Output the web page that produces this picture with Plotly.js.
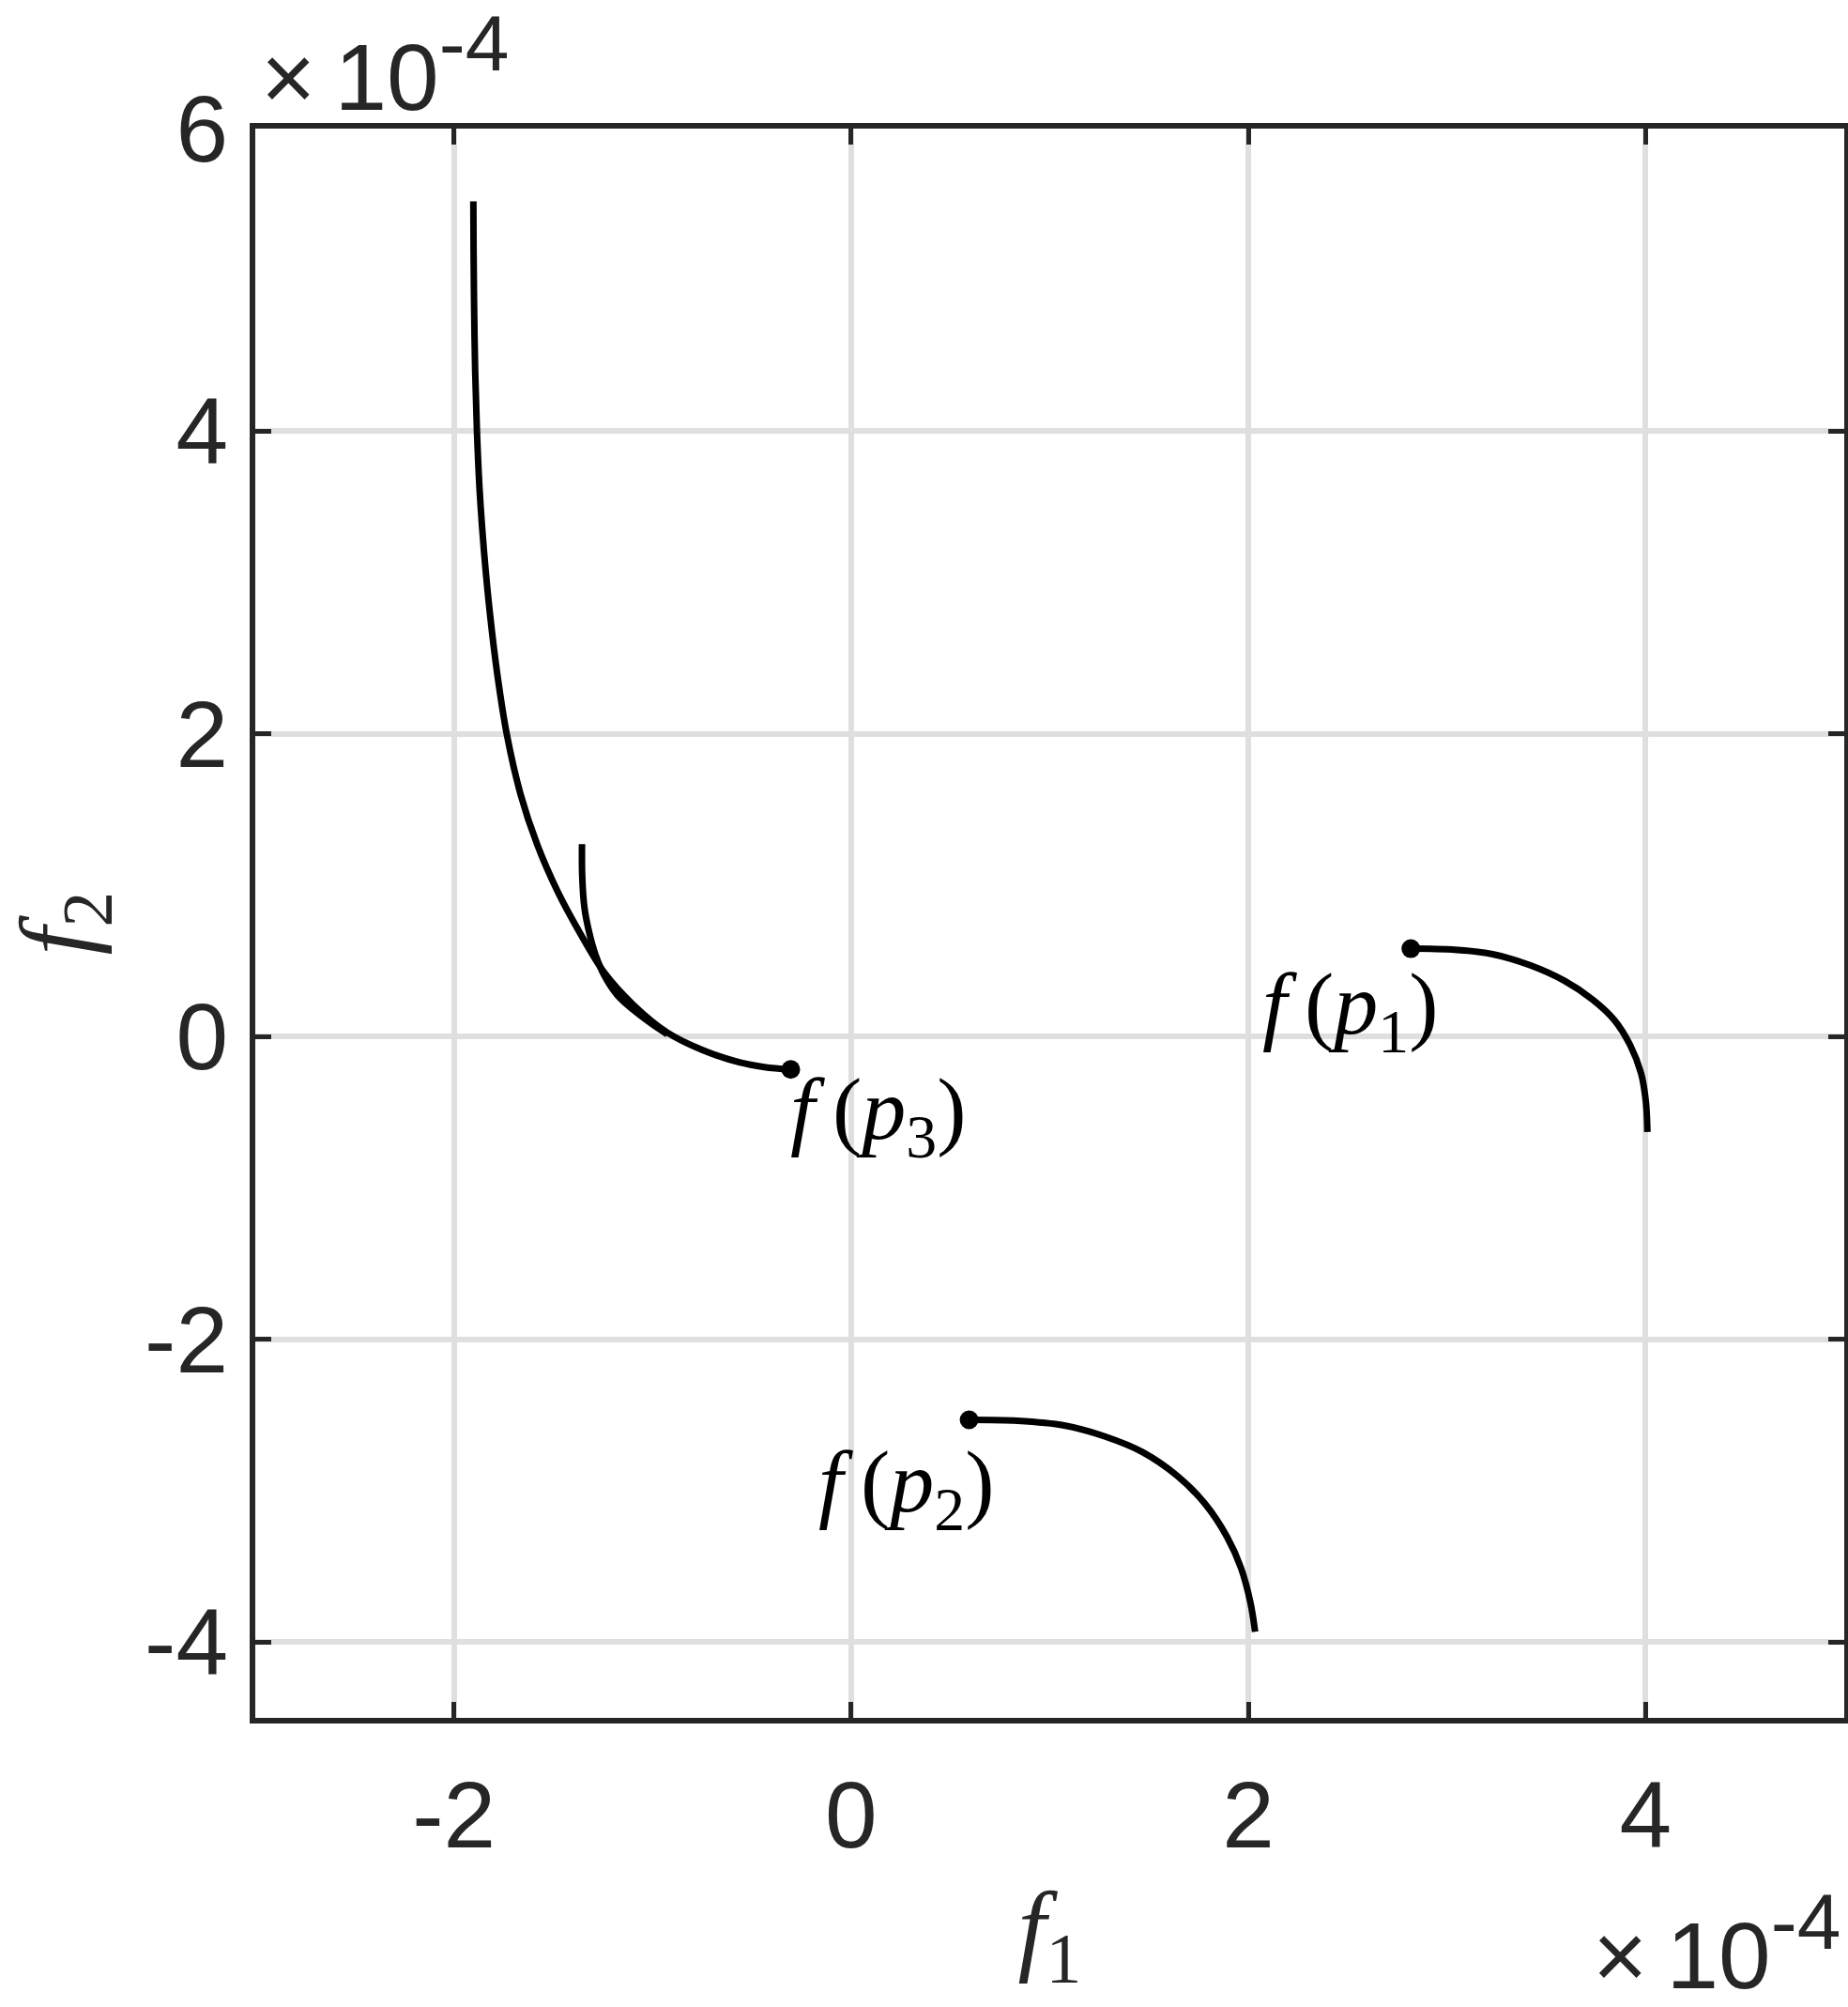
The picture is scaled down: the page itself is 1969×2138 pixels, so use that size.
<!DOCTYPE html>
<html>
<head>
<meta charset="utf-8">
<script src="https://cdn.plot.ly/plotly-3.0.1.min.js"></script>
<style>
  body { margin: 0; background: #fff; }
  #grafica { width: 1969px; height: 2138px; }
</style>
</head>
<body>
<div id="grafica"></div>
<script>
// valores en unidades de 1e-4 (el eje muestra x10^-4)
const curvaAx = [-1.902, -1.901, -1.898, -1.893, -1.884, -1.870, -1.848, -1.819, -1.782, -1.734, -1.664, -1.580, -1.477, -1.367, -1.241, -1.099, -0.926, -0.752, -0.563, -0.437, -0.304];
const curvaAy = [5.52, 5.20, 4.80, 4.40, 4.00, 3.60, 3.20, 2.80, 2.40, 2.00, 1.60, 1.268, 0.958, 0.690, 0.420, 0.214, 0.028, -0.086, -0.169, -0.200, -0.216];

const curvaBx = [-1.355, -1.354, -1.343, -1.319, -1.288, -1.241, -1.178, -1.099, -1.004, -0.926];
const curvaBy = [1.273, 1.062, 0.855, 0.690, 0.545, 0.400, 0.276, 0.180, 0.085, 0.017];

const curvaCx = [2.818, 3.025, 3.230, 3.419, 3.592, 3.734, 3.843, 3.922, 3.977, 4.001, 4.009];
const curvaCy = [0.582, 0.576, 0.545, 0.472, 0.369, 0.245, 0.110, -0.055, -0.241, -0.427, -0.629];

const curvaDx = [0.594, 0.837, 1.073, 1.278, 1.467, 1.640, 1.782, 1.892, 1.963, 2.010, 2.034];
const curvaDy = [-2.531, -2.537, -2.568, -2.641, -2.744, -2.899, -3.086, -3.303, -3.510, -3.737, -3.931];

const etiquetas = [
    "<i>f</i>\u2009(<i>p</i><sub>1</sub>)",
    "<i>f</i>\u2009(<i>p</i><sub>2</sub>)",
    "<i>f</i>\u2009(<i>p</i><sub>3</sub>)"
];

const xTicks = [-2, 0, 2, 4];
const xTickText = ["-2", "0", "2", "4"];
const yTicks = [-4, -2, 0, 2, 4, 6];
const yTickText = ["-4", "-2", "0", "2", "4", "6"];

// puntos f(p1), f(p2), f(p3): extremos de las curvas
const puntosX = [curvaCx[0], curvaDx[0], curvaAx[curvaAx.length - 1]];
const puntosY = [curvaCy[0], curvaDy[0], curvaAy[curvaAy.length - 1]];
const desplaz = [[-65, -65], [-67, -72], [93, -49]];

const negro = '#000000';
const gris = '#262626';

function curva(x, y) {
    return {
        x: x, y: y,
        type: 'scatter',
        mode: 'lines',
        line: { color: negro, width: 7, shape: 'spline', smoothing: 1 },
        hoverinfo: 'skip'
    };
}

const trazas = [
    curva(curvaAx, curvaAy),
    curva(curvaBx, curvaBy),
    curva(curvaCx, curvaCy),
    curva(curvaDx, curvaDy),
    {
        x: puntosX, y: puntosY,
        type: 'scatter',
        mode: 'markers',
        marker: { color: negro, size: 20 }
    }
];

const fuenteNum = { family: 'Liberation Sans, Arial, sans-serif', size: 100, color: gris };
const fuenteMat = { family: 'Liberation Serif, Times New Roman, serif', size: 108, color: gris };

const ejeComun = {
    ticks: 'inside',
    ticklen: 17,
    tickwidth: 5,
    tickcolor: gris,
    showline: true,
    linewidth: 6,
    linecolor: gris,
    mirror: 'ticks',
    showgrid: true,
    gridcolor: '#dfdfdf',
    gridwidth: 6,
    zeroline: false,
    tickfont: fuenteNum
};

const anotaciones = puntosX.map((px, i) => ({
    x: px, y: puntosY[i],
    xref: 'x', yref: 'y',
    text: etiquetas[i],
    showarrow: false,
    xanchor: 'center', yanchor: 'middle',
    xshift: desplaz[i][0], yshift: desplaz[i][1],
    font: { family: 'Liberation Serif, Times New Roman, serif', size: 94, color: negro }
}));

const exponente = '×\u200910<sup><span style="font-size:84px">-4</span></sup>';
anotaciones.push({
    xref: 'paper', yref: 'paper', x: 0, y: 1,
    xanchor: 'left', yanchor: 'bottom',
    xshift: 4, yshift: -3,
    text: exponente, showarrow: false,
    font: fuenteNum
});
anotaciones.push({
    xref: 'paper', yref: 'paper', x: 1, y: 0,
    xanchor: 'right', yanchor: 'top',
    xshift: -2, yshift: -168,
    text: exponente, showarrow: false,
    font: fuenteNum
});

const layout = {
    width: 1969,
    height: 2138,
    margin: { l: 272, r: 4, t: 137, b: 308 },
    paper_bgcolor: '#ffffff',
    plot_bgcolor: '#ffffff',
    showlegend: false,
    xaxis: Object.assign({}, ejeComun, {
        range: [-3, 5],
        tickvals: xTicks,
        ticktext: xTickText,
        ticklabelstandoff: 12,
        title: { text: '<i>f</i><sub>1</sub>', font: fuenteMat, standoff: 28 }
    }),
    yaxis: Object.assign({}, ejeComun, {
        range: [-4.5, 6],
        tickvals: yTicks,
        ticktext: yTickText,
        ticklabelstandoff: 3,
        title: { text: '<i>f</i><sub>2</sub>', font: fuenteMat, standoff: 70 }
    }),
    annotations: anotaciones
};

Plotly.newPlot('grafica', trazas, layout, { staticPlot: true });
</script>
</body>
</html>
